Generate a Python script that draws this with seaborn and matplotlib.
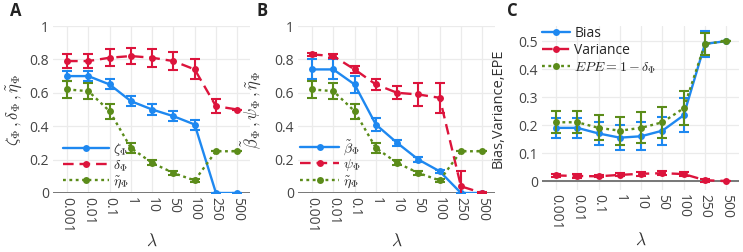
import numpy as np
import pandas as pd
import matplotlib
matplotlib.use("Agg")
import matplotlib.pyplot as plt
import seaborn as sns

# ---------------- data ----------------
lambdas = ["0.001", "0.01", "0.1", "1", "10", "50", "100", "250", "500"]

zeta = [0.70, 0.70, 0.65, 0.55, 0.50, 0.46, 0.41, 0.0, 0.0]
zeta_err = [0.03, 0.03, 0.03, 0.03, 0.03, 0.03, 0.03, 0.0, 0.0]
delta = [0.79, 0.79, 0.81, 0.82, 0.81, 0.79, 0.74, 0.52, 0.50]
delta_err = [0.04, 0.04, 0.05, 0.05, 0.055, 0.055, 0.06, 0.04, 0.0]
eta = [0.62, 0.61, 0.49, 0.27, 0.18, 0.12, 0.075, 0.25, 0.25]
eta_err = [0.05, 0.05, 0.045, 0.03, 0.015, 0.01, 0.01, 0.0, 0.0]

beta = [0.74, 0.74, 0.65, 0.41, 0.30, 0.20, 0.13, 0.0, 0.0]
beta_err = [0.06, 0.06, 0.05, 0.04, 0.02, 0.015, 0.01, 0.0, 0.0]
psi = [0.83, 0.82, 0.74, 0.65, 0.60, 0.59, 0.57, 0.04, 0.0]
psi_err = [0.01, 0.01, 0.02, 0.035, 0.04, 0.07, 0.09, 0.09, 0.005]

bias = [0.19, 0.19, 0.17, 0.155, 0.16, 0.18, 0.235, 0.49, 0.50]
bias_err = [0.035, 0.035, 0.04, 0.045, 0.05, 0.05, 0.06, 0.045, 0.0]
variance = [0.02, 0.018, 0.017, 0.022, 0.026, 0.028, 0.025, 0.003, 0.0]
variance_err = [0.006, 0.006, 0.004, 0.005, 0.007, 0.008, 0.008, 0.006, 0.0]
epe = [0.21, 0.21, 0.19, 0.18, 0.19, 0.21, 0.26, 0.49, 0.50]
epe_err = [0.04, 0.04, 0.045, 0.05, 0.055, 0.055, 0.06, 0.04, 0.0]

BLUE = "#1e88f0"
RED = "#dc143c"
GREEN = "#5b8c1a"

sns.set_theme(style="white")
plt.rcParams["font.family"] = ["Open Sans", "DejaVu Sans"]
plt.rcParams["mathtext.fontset"] = "cm"

fig = plt.figure(figsize=(7.43, 2.52), dpi=100)

W = 197 / 743
axA = fig.add_axes([53 / 743, (252 - 193) / 252, W, 167 / 252])
axB = fig.add_axes([298 / 743, (252 - 193) / 252, W, 167 / 252])
axC = fig.add_axes([542 / 743, (252 - 190) / 252, W, 164 / 252])

xpos = np.arange(len(lambdas))

styles = {
    "solid": dict(linestyle="-"),
    "dash": dict(linestyle=(0, (4.5, 2.5))),
    "dot": dict(linestyle=(0, (1.2, 1.5))),
}


def draw(ax, vals, errs, color, ls, label):
    df = pd.DataFrame({"x": xpos, "y": vals})
    sns.lineplot(data=df, x="x", y="y", ax=ax, color=color, marker="o",
                 markersize=5, markeredgewidth=0, linewidth=1.7,
                 label=label, **styles[ls])
    ax.errorbar(xpos, vals, yerr=errs, fmt="none", ecolor=color,
                elinewidth=1.5, capsize=3.8, capthick=1.5)


def style(ax, ylim, yticks, yticklabels, xlab_y):
    ax.set_xlim(-0.66, 8.6)
    ax.set_ylim(*ylim)
    ax.set_xticks(xpos)
    ax.set_xticklabels(lambdas, rotation=-90, fontsize=10, color="#444444")
    ax.set_yticks(yticks)
    ax.set_yticklabels(yticklabels, fontsize=10, color="#444444")
    ax.grid(True, color="#ebebeb", linewidth=0.9)
    ax.set_axisbelow(True)
    for s in ax.spines.values():
        s.set_visible(False)
    ax.axhline(0, color="#777777", linewidth=1.4, zorder=1)
    ax.tick_params(axis="both", length=0, pad=3)
    ax.set_xlabel(r"$\lambda$", fontsize=12.5, color="#333333", va="center")
    ax.xaxis.set_label_coords(0.5, xlab_y)


def legend(ax, **kw):
    ax.legend(frameon=False, numpoints=1, handletextpad=0.3,
              borderaxespad=0.2, **kw)


# Panel A
draw(axA, zeta, zeta_err, BLUE, "solid", r"$\zeta_\Phi$")
draw(axA, delta, delta_err, RED, "dash", r"$\delta_\Phi$")
draw(axA, eta, eta_err, GREEN, "dot", r"$\tilde{\eta}_\Phi$")
style(axA, (0, 1.0), [0, 0.2, 0.4, 0.6, 0.8, 1.0], ["0", "0.2", "0.4", "0.6", "0.8", "1"], -0.29)
axA.set_ylabel(r"$\zeta_\Phi\,,\delta_\Phi\,,\tilde{\eta}_\Phi$", fontsize=12, color="#333333", labelpad=4)
legend(axA, loc="lower left", bbox_to_anchor=(0.01, -0.03), fontsize=10,
       handlelength=3.3, labelspacing=0.02)

# Panel B
draw(axB, beta, beta_err, BLUE, "solid", r"$\tilde{\beta}_\Phi$")
draw(axB, psi, psi_err, RED, "dash", r"$\psi_\Phi$")
draw(axB, eta, eta_err, GREEN, "dot", r"$\tilde{\eta}_\Phi$")
style(axB, (0, 1.0), [0, 0.2, 0.4, 0.6, 0.8, 1.0], ["0", "0.2", "0.4", "0.6", "0.8", "1"], -0.29)
axB.set_ylabel(r"$\tilde{\beta}_\Phi\,,\psi_\Phi\,,\tilde{\eta}_\Phi$", fontsize=12, color="#333333", labelpad=7)
legend(axB, loc="lower left", bbox_to_anchor=(-0.03, -0.03), fontsize=10,
       handlelength=2.8, labelspacing=0.02)

# Panel C
draw(axC, bias, bias_err, BLUE, "solid", "Bias")
draw(axC, variance, variance_err, RED, "dash", "Variance")
draw(axC, epe, epe_err, GREEN, "dot", r"$EPE = 1 - \delta_\Phi$")
style(axC, (-0.032, 0.554), [0, 0.1, 0.2, 0.3, 0.4, 0.5], ["0", "0.1", "0.2", "0.3", "0.4", "0.5"], -0.31)
axC.set_ylabel("Bias,Variance,EPE", fontsize=10.5, color="#333333", labelpad=9)
legend(axC, loc="upper left", bbox_to_anchor=(-0.04, 1.05), fontsize=10,
       handlelength=2.0, labelspacing=0.15)

# Panel letters
fig.text(10 / 743, 1 - 16 / 252, "A", fontsize=12, fontweight="bold", color="#222222")
fig.text(257 / 743, 1 - 16 / 252, "B", fontsize=12, fontweight="bold", color="#222222")
fig.text(507 / 743, 1 - 16 / 252, "C", fontsize=12, fontweight="bold", color="#222222")

fig.savefig("out.png", dpi=100)
